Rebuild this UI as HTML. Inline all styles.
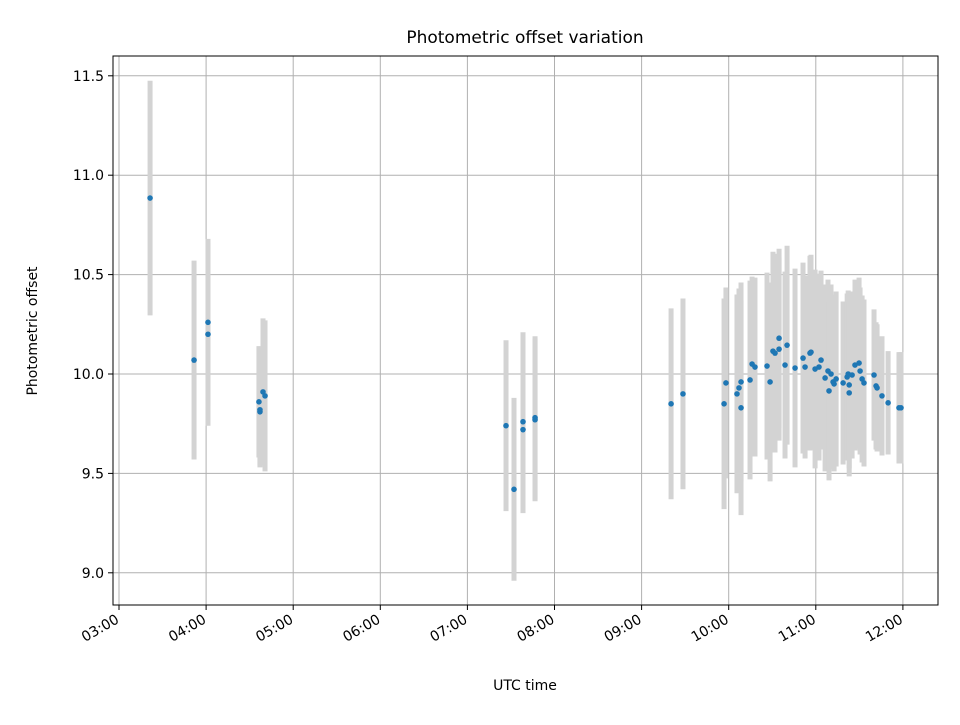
<!DOCTYPE html>
<html><head><meta charset="utf-8"><style>
body{margin:0;background:#fff;font-family:"Liberation Sans","DejaVu Sans",sans-serif}
svg text{font-family:"DejaVu Sans","Liberation Sans",sans-serif;fill:#000}
</style></head><body>
<svg id="c" width="960" height="720"></svg>
<script>
// minutes after 03:00 UTC
const times=[21.4,51.7,61.3,61.3,96.4,97.1,97.1,99.2,100.6,266.6,272.1,278.3,278.3,286.6,286.6,380.3,388.5,
416.8,418.1,425.7,427.1,428.5,428.5,434.7,436.1,438.1,446.4,448.5,450.5,451.9,454.7,454.7,460.2,458.8,465.7,471.2,472.6,476.0,476.7,479.5,482.2,483.6,486.4,488.4,489.1,490.5,491.9,492.6,494.0,498.8,501.6,502.3,503.0,503.0,505.0,507.0,509.8,510.5,511.9,513.2,520.1,521.5,522.2,525.6,529.8,537.3,538.7];
const offsets=[10.885,10.07,10.26,10.20,9.86,9.82,9.81,9.91,9.89,9.74,9.42,9.76,9.72,9.78,9.77,9.85,9.90,
9.85,9.955,9.90,9.93,9.96,9.83,9.97,10.05,10.035,10.04,9.96,10.115,10.105,10.18,10.125,10.145,10.045,10.03,10.08,10.035,10.105,10.11,10.025,10.035,10.07,9.98,10.015,9.915,10.0,9.96,9.95,9.975,9.955,9.985,10.0,9.945,9.905,9.995,10.045,10.055,10.015,9.975,9.955,9.995,9.94,9.93,9.89,9.855,9.83,9.83];
const errors=[0.59,0.5,0.42,0.46,0.28,0.28,0.28,0.37,0.38,0.43,0.46,0.45,0.42,0.41,0.41,0.48,0.48,
0.53,0.48,0.5,0.5,0.5,0.54,0.5,0.44,0.45,0.47,0.5,0.5,0.5,0.45,0.46,0.5,0.47,0.5,0.48,0.46,0.49,0.49,0.5,0.47,0.45,0.47,0.46,0.45,0.45,0.44,0.44,0.44,0.41,0.42,0.42,0.42,0.42,0.42,0.43,0.43,0.42,0.42,0.42,0.33,0.32,0.32,0.3,0.26,0.28,0.28];
const xTickLabels=["03:00","04:00","05:00","06:00","07:00","08:00","09:00","10:00","11:00","12:00"];
const yTicks=[9.0,9.5,10.0,10.5,11.0,11.5];
const NS="http://www.w3.org/2000/svg",svg=document.getElementById('c');
const L=113,R=938,T=56,B=605;
const xs=m=>119+m*87.1/60, ys=v=>374-(v-10)*198.8;
function el(t,a,p){const e=document.createElementNS(NS,t);for(const k in a)e.setAttribute(k,a[k]);(p||svg).appendChild(e);return e;}
const grid=el('g',{});
xTickLabels.forEach((lab,i)=>{const x=xs(i*60);
 el('line',{x1:x,x2:x,y1:T,y2:B,stroke:'#b0b0b0','stroke-width':1},grid);
 el('line',{x1:x,x2:x,y1:B,y2:B+5,stroke:'#000'});
 const t=el('text',{x:x+1,y:B+17,'font-size':14,'text-anchor':'end',transform:`rotate(-30 ${x+1} ${B+17})`});t.textContent=lab;
 });
yTicks.forEach(v=>{const y=ys(v);
 el('line',{x1:L,x2:R,y1:y,y2:y,stroke:'#b0b0b0','stroke-width':1},grid);
 el('line',{x1:L-5,x2:L,y1:y,y2:y,stroke:'#000'});
 const t=el('text',{x:L-9,y:y+5,'font-size':14,'text-anchor':'end'});t.textContent=v.toFixed(1);
 });
const eb=el('g',{});
times.forEach((m,i)=>{el('line',{x1:xs(m),x2:xs(m),y1:ys(offsets[i]+errors[i]),y2:ys(offsets[i]-errors[i]),stroke:'#d3d3d3','stroke-width':5},eb);});
const pts=el('g',{});
times.forEach((m,i)=>{const c=el('circle',{cx:xs(m),cy:ys(offsets[i]),r:2.8,fill:'#1f77b4'},pts);
 });
const f=el('rect',{x:L,y:T,width:R-L,height:B-T,fill:'none',stroke:'#000','stroke-width':1});

let t=el('text',{x:525,y:43,'font-size':17,'text-anchor':'middle'});t.textContent='Photometric offset variation';

t=el('text',{x:525,y:690,'font-size':14,'text-anchor':'middle'});t.textContent='UTC time';

t=el('text',{x:37,y:331,'font-size':14,'text-anchor':'middle',transform:'rotate(-90 37 331)'});t.textContent='Photometric offset';

</script></body></html>
